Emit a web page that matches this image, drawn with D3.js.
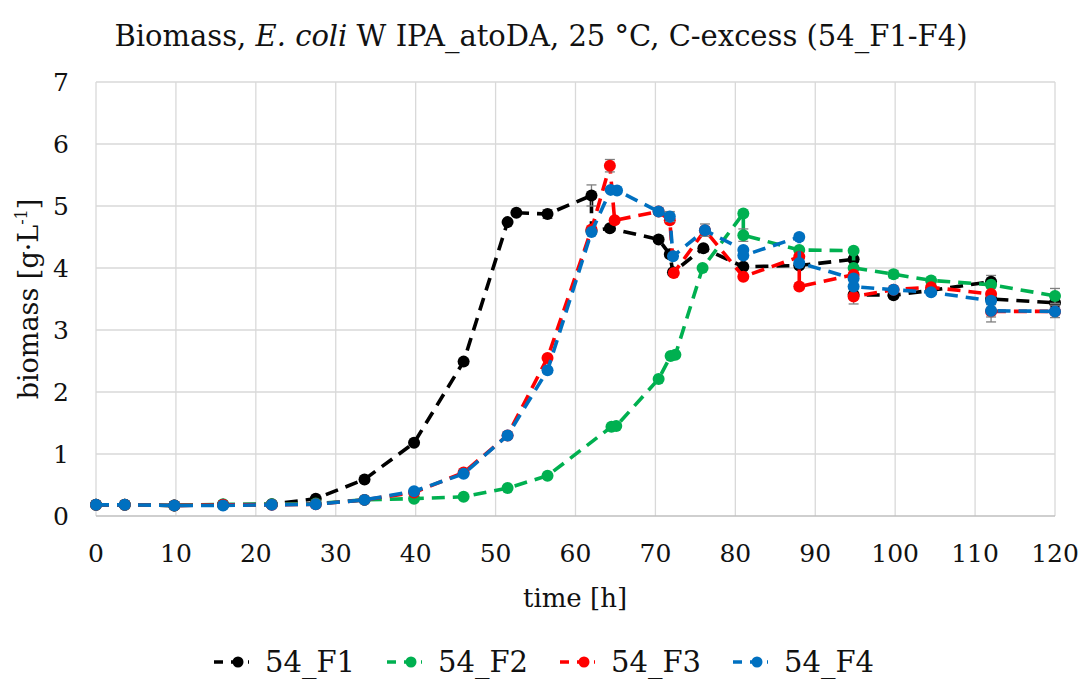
<!DOCTYPE html>
<html>
<head>
<meta charset="utf-8">
<script src="https://cdn.jsdelivr.net/npm/d3@7"></script>
<style>
  body { margin: 0; background: #fff; }
  svg text { font-family: "DejaVu Serif", serif; fill: #111; }
</style>
</head>
<body>
<div id="chart"></div>
<script>
// Biomass over time for four fermentations (54_F1..F4), dashed lines + dots + error bars.

const X_TICKS = d3.range(0, 121, 10);
const Y_TICKS = d3.range(0, 8, 1);
const NAMES = ['54_F1', '54_F2', '54_F3', '54_F4'];
const COLORS = ['#000000', '#00b050', '#ff0000', '#0070c0'];

const F1_T = [0, 3.6, 9.8, 15.9, 22, 27.5, 33.6, 39.8, 46, 51.5, 52.6, 56.5, 62, 62, 64.3, 70.4, 71.8, 72.2, 76, 81, 88, 94.8, 94.8, 99.8, 104.5, 112, 112, 120];
const F1_Y = [0.18, 0.18, 0.17, 0.18, 0.19, 0.28, 0.59, 1.18, 2.49, 4.74, 4.89, 4.87, 5.17, 4.60, 4.64, 4.46, 4.22, 3.93, 4.32, 4.02, 4.04, 4.14, 3.57, 3.56, 3.64, 3.78, 3.50, 3.44];
const F1_E = [0, 0, 0, 0, 0, 0, 0, 0, 0.05, 0, 0, 0.07, 0.17, 0.05, 0, 0, 0, 0, 0, 0, 0, 0, 0, 0, 0, 0.1, 0, 0];

const F2_T = [0, 3.6, 9.8, 15.9, 22, 27.5, 33.6, 39.8, 46, 51.5, 56.5, 64.5, 65.1, 70.4, 71.9, 72.5, 75.9, 81, 81, 88, 94.8, 94.8, 99.8, 104.5, 112, 120];
const F2_Y = [0.18, 0.18, 0.17, 0.19, 0.19, 0.20, 0.26, 0.28, 0.31, 0.45, 0.65, 1.44, 1.45, 2.21, 2.58, 2.60, 4.00, 4.88, 4.53, 4.29, 4.28, 4.00, 3.90, 3.80, 3.73, 3.55];
const F2_E = [0, 0, 0, 0, 0, 0, 0, 0, 0, 0, 0, 0, 0, 0, 0, 0, 0, 0, 0.1, 0, 0, 0, 0.06, 0, 0, 0.12];

const F3_T = [0, 3.6, 9.8, 15.9, 22, 27.5, 33.6, 39.8, 46, 51.5, 56.5, 62, 64.3, 64.9, 70.4, 71.8, 72.3, 76.2, 81, 88, 88, 94.8, 94.8, 99.8, 104.5, 112, 112, 120];
const F3_Y = [0.18, 0.18, 0.17, 0.18, 0.18, 0.19, 0.26, 0.38, 0.70, 1.30, 2.55, 4.62, 5.65, 4.77, 4.91, 4.77, 3.92, 4.61, 3.86, 4.18, 3.70, 3.89, 3.54, 3.65, 3.69, 3.58, 3.30, 3.30];
const F3_E = [0, 0, 0, 0, 0, 0, 0, 0, 0, 0, 0, 0, 0.1, 0, 0, 0, 0, 0.05, 0, 0, 0, 0, 0.12, 0, 0, 0, 0.17, 0];

const F4_T = [0, 3.6, 9.8, 15.9, 22, 27.5, 33.6, 39.8, 46, 51.5, 56.5, 62, 64.4, 65.2, 70.4, 71.8, 72.2, 76.2, 81, 81, 88, 88, 94.8, 94.8, 99.8, 104.5, 112, 112, 120];
const F4_Y = [0.18, 0.18, 0.17, 0.17, 0.18, 0.19, 0.26, 0.40, 0.68, 1.30, 2.35, 4.58, 5.26, 5.25, 4.91, 4.83, 4.19, 4.61, 4.29, 4.20, 4.50, 4.08, 3.83, 3.70, 3.65, 3.61, 3.47, 3.31, 3.30];
const F4_E = [0, 0, 0, 0, 0, 0, 0, 0, 0, 0, 0, 0, 0, 0, 0.04, 0.08, 0, 0.1, 0, 0, 0.05, 0, 0, 0, 0, 0, 0, 0.1, 0.1];

const series = [
  [F1_T, F1_Y, F1_E], [F2_T, F2_Y, F2_E], [F3_T, F3_Y, F3_E], [F4_T, F4_Y, F4_E],
].map(([t, y, e], k) => ({
  name: NAMES[k], color: COLORS[k],
  pts: t.map((tt, i) => ({ t: tt, y: y[i], e: e[i] })),
}));

const W = 1079, H = 679;
const m = { top: 82, right: 24, bottom: 163, left: 96 };

const svg = d3.select('#chart').append('svg')
  .attr('width', W).attr('height', H);

const x = d3.scaleLinear().domain([0, 120]).range([m.left, W - m.right]);
const y = d3.scaleLinear().domain([0, 7]).range([H - m.bottom, m.top]);

// grid
svg.append('g').selectAll('line.v').data(X_TICKS).join('line')
  .attr('x1', d => x(d)).attr('x2', d => x(d))
  .attr('y1', y(7)).attr('y2', y(0))
  .attr('stroke', '#d9d9d9').attr('stroke-width', 1.3);
svg.append('g').selectAll('line.h').data(Y_TICKS).join('line')
  .attr('x1', x(0)).attr('x2', x(120))
  .attr('y1', d => y(d)).attr('y2', d => y(d))
  .attr('stroke', d => d === 0 ? '#bfbfbf' : '#d9d9d9').attr('stroke-width', 1.3);

// tick labels
svg.append('g').selectAll('text').data(X_TICKS).join('text')
  .attr('x', d => x(d)).attr('y', y(0) + 46)
  .attr('text-anchor', 'middle').attr('font-size', 25)
  .text(d => d);
svg.append('g').selectAll('text').data(Y_TICKS).join('text')
  .attr('x', x(0) - 27).attr('y', d => y(d) + 9)
  .attr('text-anchor', 'end').attr('font-size', 25)
  .text(d => d);

// titles
svg.append('text').attr('x', 541).attr('y', 46)
  .attr('text-anchor', 'middle').attr('font-size', 29)
  .call(t => {
    t.append('tspan').text('Biomass, ');
    t.append('tspan').attr('font-style', 'italic').text('E. coli');
    t.append('tspan').text(' W IPA_atoDA, 25 °C, C-excess (54_F1-F4)');
  });
svg.append('text').attr('x', 575).attr('y', 607)
  .attr('text-anchor', 'middle').attr('font-size', 26)
  .text('time [h]');
svg.append('text')
  .attr('transform', `translate(38,${(y(0) + y(7)) / 2}) rotate(-90)`)
  .attr('text-anchor', 'middle').attr('font-size', 27)
  .call(t => {
    t.append('tspan').text('biomass [g·L');
    t.append('tspan').attr('font-size', 16).attr('dy', -11).text('-1');
    t.append('tspan').attr('dy', 11).text(']');
  });

// series
const line = d3.line().x(d => x(d.t)).y(d => y(d.y));
for (const s of series) {
  const g = svg.append('g');
  g.append('path').datum(s.pts).attr('d', line)
    .attr('fill', 'none').attr('stroke', s.color)
    .attr('stroke-width', 3.6).attr('stroke-dasharray', '13,8');
  const eb = s.pts.filter(d => d.e > 0);
  g.selectAll('line.err').data(eb).join('line')
    .attr('x1', d => x(d.t)).attr('x2', d => x(d.t))
    .attr('y1', d => y(d.y - d.e)).attr('y2', d => y(d.y + d.e))
    .attr('stroke', '#7f7f7f').attr('stroke-width', 1.3);
  for (const sgn of [-1, 1]) {
    g.selectAll(null).data(eb).join('line')
      .attr('x1', d => x(d.t) - 5).attr('x2', d => x(d.t) + 5)
      .attr('y1', d => y(d.y + sgn * d.e)).attr('y2', d => y(d.y + sgn * d.e))
      .attr('stroke', '#7f7f7f').attr('stroke-width', 1.3);
  }
  g.selectAll('circle').data(s.pts).join('circle')
    .attr('cx', d => x(d.t)).attr('cy', d => y(d.y)).attr('r', 6)
    .attr('fill', s.color);
}

// legend
const lg = svg.append('g').selectAll('g').data(series).join('g')
  .attr('transform', (d, i) => `translate(${214 + i * 173},662)`);
lg.append('line').attr('x1', 0).attr('x2', 35).attr('y1', 0).attr('y2', 0)
  .attr('stroke', d => d.color).attr('stroke-width', 3.6).attr('stroke-dasharray', '9,8');
lg.append('circle').attr('cx', 24).attr('cy', 0).attr('r', 5.5).attr('fill', d => d.color);
lg.append('text').attr('x', 51).attr('y', 10).attr('font-size', 29).text(d => d.name);
</script>
</body>
</html>
